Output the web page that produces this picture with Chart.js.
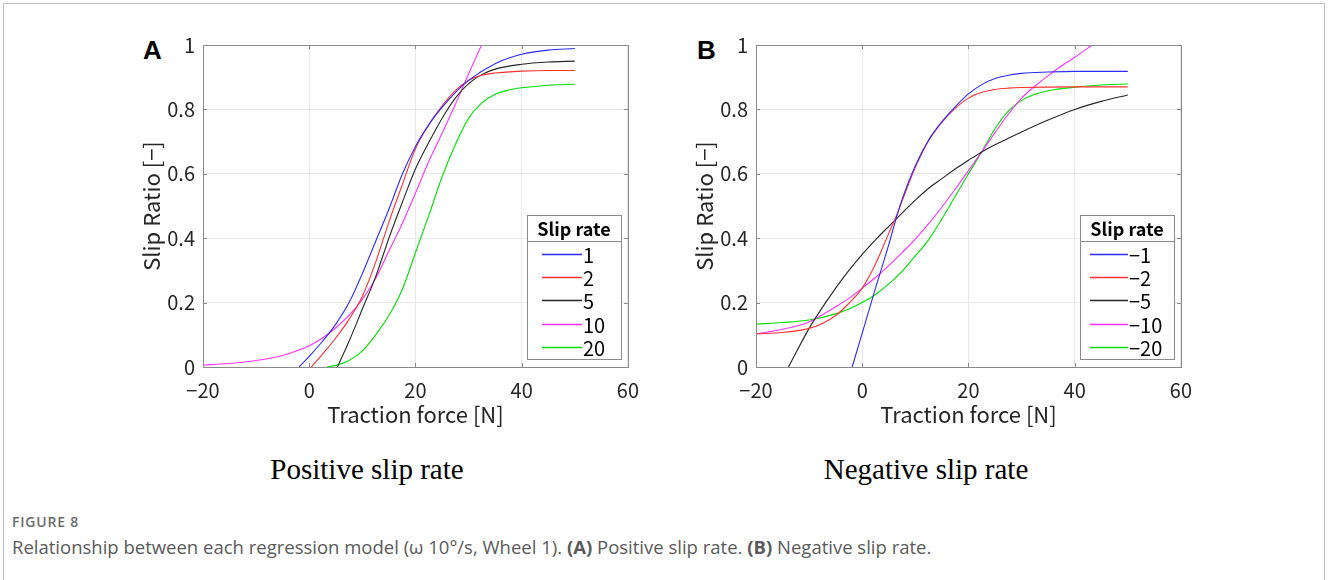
<!DOCTYPE html>
<html>
<head>
<meta charset="utf-8">
<title>Figure 8</title>
<script src="https://cdn.jsdelivr.net/npm/chart.js@4.4.1/dist/chart.umd.min.js"></script>
<style>
  body { margin: 0; background: #fff; width: 1328px; height: 580px; overflow: hidden; position: relative; }
  .frame { position: absolute; left: 3px; top: 3px; width: 1320px; height: 620px; border: 1px solid #bdbdbd; }
  .panel { position: absolute; top: 25px; width: 520px; height: 411px; }
  .letter { position: absolute; font: bold 26px "Liberation Sans", Arial, sans-serif; color: #000; }
  .sub { position: absolute; top: 453px; width: 320px; text-align: center; font: 29px "Liberation Serif", "Times New Roman", serif; color: #000; }
  .figno { position: absolute; left: 12px; top: 512px; font: 600 14px "Open Sans", sans-serif; color: #6b6b6b; letter-spacing: 0.8px; }
  .caption { position: absolute; left: 12px; top: 534px; font: 18.5px "Open Sans", sans-serif; color: #5a5a5a; }
  .caption b { font-weight: 700; }
</style>
</head>
<body>
<div class="frame"></div>

<div class="letter" style="left:143px; top:35px;">A</div>
<div class="letter" style="left:697px; top:35px;">B</div>

<div class="panel" style="left:130px;"><canvas id="chartA"></canvas></div>
<div class="panel" style="left:683px;"><canvas id="chartB"></canvas></div>

<div class="sub" style="left:207px;">Positive slip rate</div>
<div class="sub" style="left:766px;">Negative slip rate</div>

<div class="figno">FIGURE 8</div>
<div class="caption">Relationship between each regression model (ω 10°/s, Wheel 1). <b>(A)</b> Positive slip rate. <b>(B)</b> Negative slip rate.</div>

<script>
'use strict';

// axis ticks
const forceTicks = [-20, 0, 20, 40, 60];
const ratioTicks = [0, 0.2, 0.4, 0.6, 0.8, 1];

// legend labels
const ratesA = ['1', '2', '5', '10', '20'];
const ratesB = ['\u22121', '\u22122', '\u22125', '\u221210', '\u221220'];

// panel A (positive slip rate)
const forceA1 = [-1.9, 0, 2.5, 5, 7.5, 10, 12.5, 15, 17.5, 20, 22.5, 25, 27.5, 30, 35, 40, 45, 50];
const slipA1 = [0, 0.033, 0.08, 0.133, 0.2, 0.29, 0.39, 0.49, 0.598, 0.685, 0.752, 0.806, 0.852, 0.89, 0.942, 0.971, 0.984, 0.989];

const forceA2 = [0.4, 2.5, 5, 7.5, 10, 12.5, 15, 17.5, 20, 22.5, 25, 27.5, 30, 32.5, 35, 40, 45, 50];
const slipA2 = [0, 0.04, 0.09, 0.148, 0.22, 0.325, 0.45, 0.565, 0.678, 0.752, 0.81, 0.858, 0.89, 0.906, 0.913, 0.919, 0.921, 0.921];

const forceA5 = [5.3, 7.5, 10, 12.5, 15, 17.5, 20, 22.5, 25, 27.5, 30, 32.5, 35, 40, 45, 50];
const slipA5 = [0, 0.08, 0.18, 0.28, 0.4, 0.51, 0.615, 0.697, 0.772, 0.835, 0.88, 0.908, 0.925, 0.94, 0.947, 0.95];

const forceA10 = [-20, -15, -10, -5, 0, 2.5, 5, 7.5, 10, 12.5, 15, 17.5, 20, 22.5, 25, 27.5, 30, 32.45];
const slipA10 = [0.006, 0.011, 0.02, 0.036, 0.066, 0.09, 0.122, 0.16, 0.21, 0.275, 0.36, 0.445, 0.54, 0.638, 0.725, 0.815, 0.91, 1];

const forceA20 = [3.3, 5, 7.5, 10, 12.5, 15, 17.5, 20, 22.5, 25, 27.5, 30, 32.5, 35, 37.5, 40, 45, 50];
const slipA20 = [0, 0.005, 0.02, 0.05, 0.1, 0.16, 0.24, 0.355, 0.47, 0.59, 0.69, 0.772, 0.82, 0.847, 0.86, 0.867, 0.875, 0.878];

// panel B (negative slip rate)
const forceB1 = [-1.9, 0, 2.5, 5, 6.5, 7.5, 10, 12.5, 15, 17.5, 20, 22.5, 25, 27.5, 30, 35, 40, 50];
const slipB1 = [0, 0.105, 0.245, 0.38, 0.468, 0.52, 0.625, 0.705, 0.762, 0.808, 0.848, 0.877, 0.896, 0.906, 0.912, 0.916, 0.918, 0.918];

const forceB2 = [-20, -15, -10, -7.5, -5, -2.5, 0, 2.5, 5, 6.5, 7.5, 10, 12.5, 15, 17.5, 20, 22.5, 25, 27.5, 30, 40, 50];
const slipB2 = [0.103, 0.107, 0.12, 0.135, 0.16, 0.198, 0.245, 0.32, 0.415, 0.472, 0.515, 0.62, 0.703, 0.76, 0.803, 0.835, 0.853, 0.862, 0.866, 0.868, 0.87, 0.87];

const forceB5 = [-13.9, -10, -8.7, -5, -2.5, 0, 2.5, 5, 7.5, 10, 12.5, 15, 17.5, 20, 22.5, 25, 30, 35, 40, 45, 50];
const slipB5 = [0, 0.12, 0.155, 0.245, 0.3, 0.35, 0.395, 0.437, 0.478, 0.518, 0.555, 0.585, 0.615, 0.642, 0.668, 0.69, 0.73, 0.767, 0.8, 0.825, 0.845];

const forceB10 = [-20, -15, -10, -5, -2.5, 0, 2.5, 5, 7.5, 10, 12.5, 15, 17.5, 20, 22.5, 25, 27.5, 30, 32.5, 35, 37.5, 40, 43.3];
const slipB10 = [0.103, 0.117, 0.14, 0.187, 0.213, 0.245, 0.278, 0.315, 0.355, 0.397, 0.445, 0.497, 0.552, 0.61, 0.668, 0.728, 0.785, 0.835, 0.872, 0.905, 0.935, 0.962, 1];

const forceB20 = [-20, -15, -10, -5, -2.5, 0, 2.5, 5, 7.5, 10, 12.5, 15, 17.5, 20, 22.5, 25, 27.5, 30, 32.5, 35, 40, 45, 50];
const slipB20 = [0.133, 0.138, 0.146, 0.165, 0.18, 0.2, 0.225, 0.258, 0.297, 0.345, 0.395, 0.46, 0.53, 0.6, 0.668, 0.74, 0.795, 0.828, 0.847, 0.858, 0.869, 0.876, 0.879];

const lineColors = ['#2b2bff', '#ff3030', '#262626', '#ff30ff', '#00e000'];

// helpers

function toPoints(xs, ys) {
  return xs.map((x, i) => ({ x: x, y: ys[i] }));
}

function minusSign(v) {
  return String(v).replace('-', '\u2212');
}

function makeDatasets(labels, series) {
  return series.map((s, i) => ({
    label: labels[i],
    data: toPoints(s[0], s[1]),
    borderColor: lineColors[i],
    borderWidth: 1.1,
    pointRadius: 0,
    showLine: true,
    fill: false,
    cubicInterpolationMode: 'monotone'
  }));
}

// box, inward ticks and the legend, drawn the MATLAB way
const matlabFrame = {
  id: 'matlabFrame',
  afterDatasetsDraw(chart, args, opts) {
    const ctx = chart.ctx;
    const a = chart.chartArea;
    const xs = chart.scales.x;
    const ys = chart.scales.y;
    ctx.save();
    ctx.lineWidth = 1;
    ctx.strokeStyle = '#8a8a8a';
    ctx.beginPath();
    forceTicks.forEach(v => {
      const px = Math.round(xs.getPixelForValue(v)) + 0.5;
      ctx.moveTo(px, a.bottom); ctx.lineTo(px, a.bottom - 4);
      ctx.moveTo(px, a.top); ctx.lineTo(px, a.top + 4);
    });
    ratioTicks.forEach(v => {
      const py = Math.round(ys.getPixelForValue(v)) + 0.5;
      ctx.moveTo(a.left, py); ctx.lineTo(a.left + 4, py);
      ctx.moveTo(a.right, py); ctx.lineTo(a.right - 4, py);
    });
    ctx.stroke();
    ctx.strokeRect(Math.round(a.left) + 0.5, Math.round(a.top) + 0.5, Math.round(a.right - a.left), Math.round(a.bottom - a.top));

    // legend
    const w = 94, h = 144;
    const x0 = Math.round(a.right - 7 - w), y0 = Math.round(a.bottom - 8 - h);
    ctx.fillStyle = '#fff';
    ctx.fillRect(x0, y0, w, h);
    ctx.strokeStyle = '#8a8a8a';
    ctx.strokeRect(x0 + 0.5, y0 + 0.5, w, h);
    ctx.beginPath();
    ctx.moveTo(x0, y0 + 26.5); ctx.lineTo(x0 + w, y0 + 26.5);
    ctx.stroke();
    ctx.fillStyle = '#000';
    ctx.font = 'bold 18px "Noto Sans CJK JP", "Noto Sans", sans-serif';
    ctx.textAlign = 'center';
    ctx.textBaseline = 'middle';
    ctx.fillText('Slip rate', x0 + w / 2, y0 + 14);
    ctx.font = '20px "Noto Sans CJK JP", "Noto Sans", sans-serif';
    ctx.textAlign = 'left';
    chart.data.datasets.forEach((ds, i) => {
      const y = Math.round(y0 + 39 + i * 23.2) + 0.5;
      ctx.strokeStyle = ds.borderColor;
      ctx.lineWidth = 1.4;
      ctx.beginPath();
      ctx.moveTo(x0 + opts.lineFrom, y); ctx.lineTo(x0 + opts.lineTo, y);
      ctx.stroke();
      ctx.fillStyle = '#000';
      ctx.fillText(ds.label, x0 + opts.lineTo + 1, y + 1);
    });
    ctx.restore();
  }
};

function makeChart(canvasId, labels, series, legendOpts) {
  const axisFont = { family: '"Noto Sans CJK JP", "Noto Sans", sans-serif', size: 20 };
  const titleFont = { family: '"Noto Sans CJK JP", "Noto Sans", sans-serif', size: 22 };
  return new Chart(document.getElementById(canvasId), {
    type: 'scatter',
    data: { datasets: makeDatasets(labels, series) },
    plugins: [matlabFrame],
    options: {
      responsive: true,
      maintainAspectRatio: false,
      animation: false,
      layout: { padding: { left: 0, right: 1, top: 0, bottom: 0 } },
      plugins: {
        legend: { display: false },
        tooltip: { enabled: false },
        matlabFrame: legendOpts
      },
      scales: {
        x: {
          type: 'linear',
          min: -20,
          max: 60,
          afterBuildTicks: s => { s.ticks = forceTicks.map(v => ({ value: v })); },
          afterFit: s => { s.height = 69; },
          grid: { color: '#e8e8e8', drawTicks: false },
          border: { display: false },
          ticks: { color: '#262626', font: axisFont, padding: 11, maxRotation: 0, callback: v => minusSign(v) },
          title: { display: true, text: 'Traction force [N]', color: '#262626', font: titleFont, padding: { top: 0, bottom: 8 } }
        },
        y: {
          type: 'linear',
          min: 0,
          max: 1,
          afterBuildTicks: s => { s.ticks = ratioTicks.map(v => ({ value: v })); },
          afterFit: s => { s.width = 73; },
          grid: { color: '#e8e8e8', drawTicks: false },
          border: { display: false },
          ticks: { color: '#262626', font: axisFont, padding: 8, callback: v => String(Math.round(v * 10) / 10) },
          title: { display: true, text: 'Slip Ratio [\u2212]', color: '#262626', font: titleFont, padding: { top: 8, bottom: 0 } }
        }
      }
    }
  });
}

makeChart('chartA', ratesA, [
  [forceA1, slipA1], [forceA2, slipA2], [forceA5, slipA5], [forceA10, slipA10], [forceA20, slipA20]
], { lineFrom: 15, lineTo: 55 });

makeChart('chartB', ratesB, [
  [forceB1, slipB1], [forceB2, slipB2], [forceB5, slipB5], [forceB10, slipB10], [forceB20, slipB20]
], { lineFrom: 10, lineTo: 48 });
</script>
</body>
</html>
